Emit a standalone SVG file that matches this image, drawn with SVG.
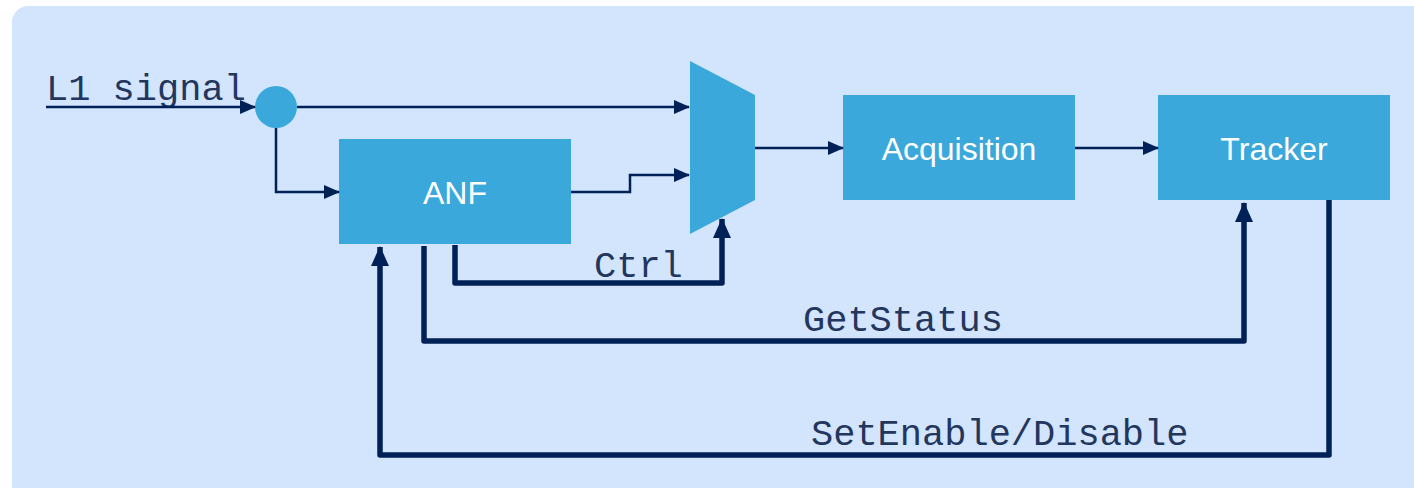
<svg xmlns="http://www.w3.org/2000/svg" width="1414" height="488" viewBox="0 0 1414 488">
<defs>
<style>
.box{fill:#3aa8db}
.btxt{font-family:"Liberation Sans",Arial,sans-serif;font-size:32px;fill:#ffffff;text-anchor:middle}
.lbl{font-family:"Liberation Mono","Courier New",monospace;font-size:37px;fill:#22365e}
.thin{fill:none;stroke:#002157;stroke-width:2.5}
.thick{fill:none;stroke:#002157;stroke-width:5.5;stroke-linejoin:round}
</style>
<marker id="ah" markerUnits="userSpaceOnUse" markerWidth="16" markerHeight="16" viewBox="0 0 16 16" refX="15" refY="8" orient="auto">
<path d="M0,1 L16,8 L0,15 Z" fill="#002157"/>
</marker>
<marker id="ahb" markerUnits="userSpaceOnUse" markerWidth="20" markerHeight="20" viewBox="0 0 20 20" refX="19" refY="10" orient="auto">
<path d="M0,1 L20,10 L0,19 Z" fill="#002157"/>
</marker>
</defs>
<rect x="12" y="6" width="1430" height="520" rx="16" ry="16" fill="#d3e5fd"/>
<g id="input">
<text class="lbl" x="46" y="100">L1 signal</text>
</g>
<g id="splitter">
<circle cx="276" cy="107" r="21" fill="#3aa8db"/>
</g>
<g id="anf">
<rect class="box" x="339" y="139" width="232" height="105"/>
<text class="btxt" x="455" y="204">ANF</text>
</g>
<g id="mux">
<polygon class="box" points="690,61 755,95 755,200 690,234"/>
</g>
<g id="acquisition">
<rect class="box" x="843" y="95" width="232" height="105"/>
<text class="btxt" x="959" y="160">Acquisition</text>
</g>
<g id="tracker">
<rect class="box" x="1158" y="95" width="232" height="105"/>
<text class="btxt" x="1274" y="160">Tracker</text>
</g>
<g id="connectors">
<path class="thin" d="M46,107 L255,107" marker-end="url(#ah)"/>
<path class="thin" d="M297,107 L689,107" marker-end="url(#ah)"/>
<path class="thin" d="M276,128 L276,192 L339,192" marker-end="url(#ah)"/>
<path class="thin" d="M571,192 L630,192 L630,175 L689,175" marker-end="url(#ah)"/>
<path class="thin" d="M755,148 L843,148" marker-end="url(#ah)"/>
<path class="thin" d="M1075,148 L1158,148" marker-end="url(#ah)"/>
<path class="thick" d="M455,245 L455,283 L722,283 L722,219" marker-end="url(#ahb)"/>
<path class="thick" d="M424,246 L424,341 L1244,341 L1244,203" marker-end="url(#ahb)"/>
<path class="thick" d="M1329,200 L1329,455 L380,455 L380,247" marker-end="url(#ahb)"/>
<text class="lbl" x="594" y="277">Ctrl</text>
<text class="lbl" x="803" y="331">GetStatus</text>
<text class="lbl" x="811" y="445">SetEnable/Disable</text>
</g>
</svg>
